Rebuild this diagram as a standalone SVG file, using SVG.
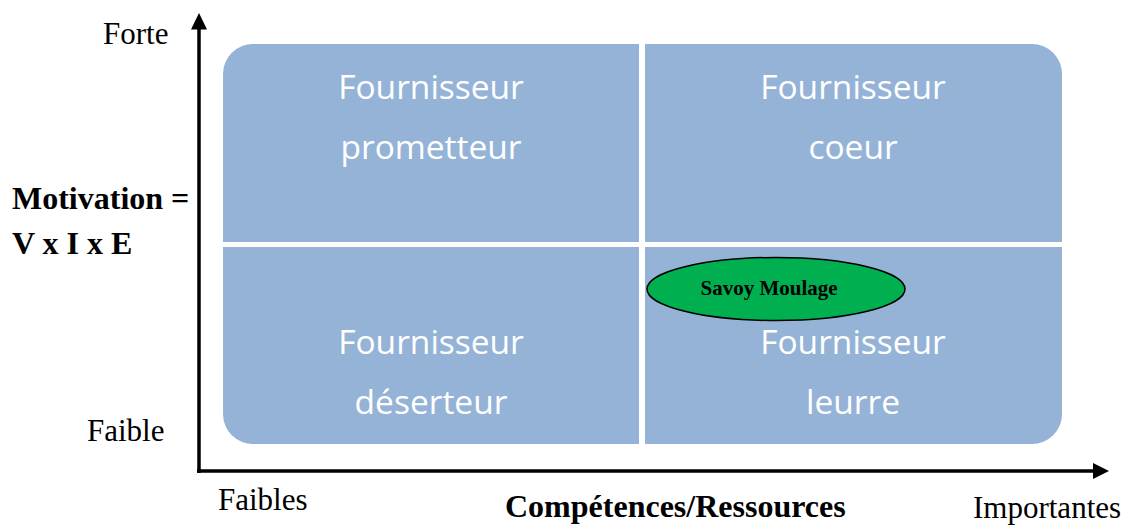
<svg xmlns="http://www.w3.org/2000/svg" width="1129" height="525" viewBox="0 0 1129 525">
  <style>
    .tile { fill: #95B3D7; }
    .qt { font-family: "Open Sans", "Noto Sans", sans-serif; font-size: 33.5px; fill: #FFFFFF; text-anchor: middle; }
    .lbl { font-family: "Liberation Serif", "Times New Roman", serif; font-size: 31px; fill: #000000; }
    .bold { font-family: "Liberation Serif", "Times New Roman", serif; font-size: 32px; font-weight: bold; fill: #000000; }
    .axis { stroke: #000000; stroke-width: 3.5; fill: none; }
    .head { fill: #000000; }
  </style>
  <rect width="1129" height="525" fill="#FFFFFF"/>

  <g id="quadrant-prometteur">
    <path class="tile" d="M223,74 A30,30 0 0 1 253,44 H639 V242 H223 Z"/>
    <text class="qt" x="431" y="99">Fournisseur</text>
    <text class="qt" x="431" y="159">prometteur</text>
  </g>
  <g id="quadrant-coeur">
    <path class="tile" d="M645,44 H1032 A30,30 0 0 1 1062,74 V242 H645 Z"/>
    <text class="qt" x="853" y="99">Fournisseur</text>
    <text class="qt" x="853" y="159">coeur</text>
  </g>
  <g id="quadrant-deserteur">
    <path class="tile" d="M223,247 H639 V444 H253 A30,30 0 0 1 223,414 Z"/>
    <text class="qt" x="431" y="354">Fournisseur</text>
    <text class="qt" x="431" y="414">déserteur</text>
  </g>
  <g id="quadrant-leurre">
    <path class="tile" d="M645,247 H1062 V414 A30,30 0 0 1 1032,444 H645 Z"/>
    <text class="qt" x="853" y="354">Fournisseur</text>
    <text class="qt" x="853" y="414">leurre</text>
  </g>

  <g id="savoy-moulage">
    <ellipse cx="776" cy="289" rx="129" ry="31.5" fill="#00B050" stroke="#000000" stroke-width="1.5"/>
    <text x="769" y="295" font-family="Liberation Serif, Times New Roman, serif" font-size="21" font-weight="bold" text-anchor="middle" fill="#000000">Savoy Moulage</text>
  </g>

  <g id="connectors">
    <line class="axis" x1="199" y1="473" x2="199" y2="28"/>
    <polygon class="head" points="199,13 191,29.5 207,29.5"/>
    <line class="axis" x1="197" y1="471" x2="1094" y2="471"/>
    <polygon class="head" points="1109,471 1093,463 1093,479"/>
  </g>

  <g id="axis-labels">
    <text class="lbl" x="103" y="44">Forte</text>
    <text class="lbl" x="87" y="441">Faible</text>
    <text class="bold" x="12" y="209">Motivation =</text>
    <text class="bold" x="12" y="254">V x I x E</text>
    <text class="lbl" x="218" y="510">Faibles</text>
    <text class="bold" x="505" y="517">Compétences/Ressources</text>
    <text class="lbl" x="973" y="518">Importantes</text>
  </g>
</svg>
